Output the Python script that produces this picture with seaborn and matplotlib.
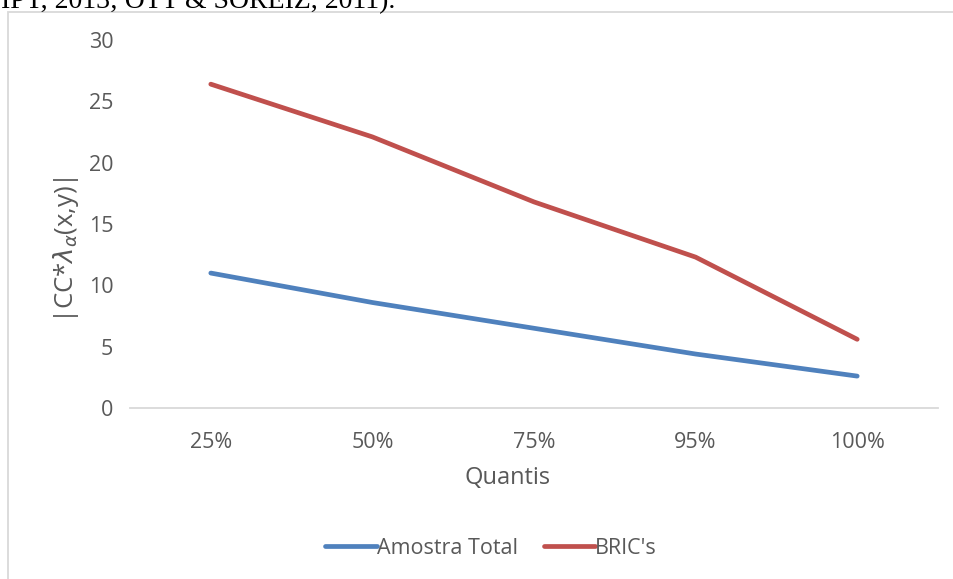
import matplotlib
matplotlib.use("Agg")
import matplotlib.pyplot as plt
import numpy as np
import pandas as pd
import seaborn as sns
from matplotlib.patches import Rectangle

quantis = ["25%", "50%", "75%", "95%", "100%"]
amostra_total = [11.0, 8.6, 6.5, 4.4, 2.6]
brics = [26.4, 22.1, 16.8, 12.3, 5.6]
series_names = ["Amostra Total", "BRIC's"]
colors = ["#4F81BD", "#C0504D"]

df = pd.DataFrame({
    "pos": list(range(len(quantis))) * 2,
    "valor": amostra_total + brics,
    "serie": [series_names[0]] * len(quantis) + [series_names[1]] * len(quantis),
})

sns.set_style("white")
plt.rcParams["font.family"] = ["Open Sans", "DejaVu Sans"]
plt.rcParams["mathtext.fontset"] = "dejavusans"
txt = "#595959"

fig = plt.figure(figsize=(9.54, 5.79), dpi=100)
ax = fig.add_axes([130 / 954, 1 - 408 / 579, 808 / 954, 368 / 579])

sns.lineplot(data=df, x="pos", y="valor", hue="serie", palette=colors,
             linewidth=3.4, solid_capstyle="round", ax=ax, legend=False)

ax.set_xlim(-0.5, len(quantis) - 0.5)
ax.set_ylim(0, 30)
ax.set_yticks(np.arange(0, 31, 5))
ax.set_xticks(range(len(quantis)))
ax.set_xticklabels(quantis)
ax.tick_params(axis="both", length=0, labelsize=15.5, labelcolor=txt)
ax.tick_params(axis="x", pad=17)
ax.tick_params(axis="y", pad=12)
for s in ["top", "right", "left"]:
    ax.spines[s].set_visible(False)
ax.spines["bottom"].set_color("#D9D9D9")
ax.spines["bottom"].set_linewidth(1.3)

ax.set_xlabel("Quantis", fontsize=17, color=txt)
ax.xaxis.set_label_coords((508 - 130) / 808, -(478 - 408) / 368)
ax.set_ylabel(r"|CC*$\lambda_\alpha$(x,y)|", fontsize=18.5, color=txt)
ax.yaxis.set_label_coords(-(130 - 66) / 808, (408 - 250) / 368)
ax.xaxis.label.set_va("center")
ax.yaxis.label.set_va("center")

handles = [plt.Line2D([0], [0], color=c, lw=3.4, solid_capstyle="round") for c in colors]
fig.legend(handles, series_names, loc="center", bbox_to_anchor=(491 / 954, 1 - 548 / 579),
           ncol=2, frameon=False, fontsize=15.5, handlelength=2.4, handletextpad=0.0,
           columnspacing=1.2, labelcolor=txt)

# chart frame
fig.patches.append(Rectangle((8 / 954, -0.05), 1.0, 1 - 12 / 579 + 0.05,
                             transform=fig.transFigure, fill=False,
                             edgecolor="#D9D9D9", linewidth=1.3))

# clipped document text above the chart
fig.text(0.001, 1 - 8 / 579, "IPT, 2013; OTT & SOREIZ, 2011).", fontsize=20,
         family="Liberation Serif", color="black", va="baseline", ha="left")

fig.savefig("out.png", dpi=100)
